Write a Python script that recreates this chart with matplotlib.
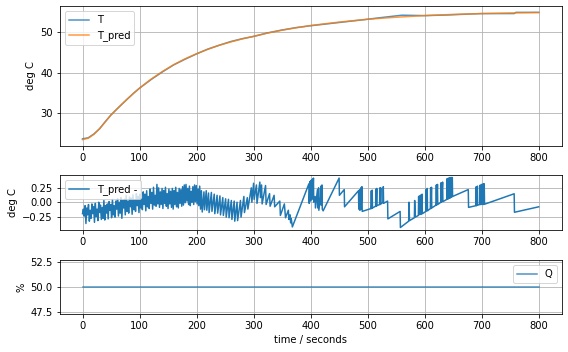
import numpy as np
import matplotlib
matplotlib.use("Agg")
import matplotlib.pyplot as plt

# ---------------- data ----------------
pred_time = [0, 10, 20, 30, 40, 50, 60, 70, 80, 90, 100, 120, 140, 160, 180, 200,
             220, 240, 260, 280, 300, 325, 350, 375, 400, 450, 500, 550, 600,
             650, 700, 750, 800]
T_pred = [23.5, 23.85, 24.8, 26.2, 27.9, 29.6, 31.0, 32.4, 33.7, 35.0, 36.2, 38.4,
          40.3, 42.0, 43.45, 44.7, 45.8, 46.8, 47.6, 48.35, 49.0, 49.8, 50.5,
          51.1, 51.65, 52.5, 53.2, 53.7, 54.1, 54.4, 54.6, 54.75, 54.85]

meas_time = [0, 10, 20, 30, 40, 50, 60, 70, 80, 90, 100, 120, 140, 160, 180, 200,
             220, 240, 260, 280, 300, 325, 350, 375, 400, 450, 500, 520, 560,
             600, 640, 680, 700, 757, 760, 800]
T_meas = [23.7, 23.95, 24.9, 26.2, 27.95, 29.6, 31.0, 32.35, 33.7, 35.0, 36.2, 38.3,
          40.2, 41.95, 43.35, 44.65, 45.85, 46.8, 47.7, 48.4, 48.95, 49.85, 50.55,
          51.15, 51.6, 52.4, 53.2, 53.55, 54.2, 54.1, 54.25, 54.5, 54.6, 54.6,
          54.9, 54.9]

# residual T_pred - T, dense part sampled every 1.5 s from t = 0
resid_dense_dt = 1.5
resid_dense = [
    -0.20, -0.12, -0.24, -0.06, -0.37, -0.10, -0.22, -0.04, -0.33, -0.14,
    -0.28, -0.03, -0.20, -0.08, -0.35, -0.02, -0.25, -0.12, -0.32, 0.00,
    -0.18, -0.05, -0.30, -0.09, -0.28, 0.03, -0.31, -0.06, -0.19, -0.03,
    -0.29, 0.01, -0.14, -0.04, -0.27, 0.05, -0.22, -0.06, -0.26, 0.02,
    -0.12, 0.06, -0.24, 0.00, -0.19, 0.08, -0.28, 0.03, -0.10, 0.05,
    -0.22, 0.12, -0.16, 0.02, -0.19, 0.09, -0.08, 0.07, -0.21, 0.13,
    -0.13, 0.04, -0.16, 0.15, -0.06, 0.10, -0.18, 0.14, -0.10, 0.06,
    -0.13, 0.18, -0.04, 0.14, -0.15, 0.20, -0.08, 0.10, -0.11, 0.23,
    -0.02, 0.17, -0.12, 0.26, -0.05, 0.12, -0.07, 0.31, -0.03, 0.25,
    -0.09, 0.18, -0.04, 0.24, -0.11, 0.20, -0.02, 0.26, -0.07, 0.15,
    -0.11, 0.23, -0.03, 0.19, -0.09, 0.24, -0.12, 0.20, -0.04, 0.26,
    -0.08, 0.17, -0.10, 0.24, -0.02, 0.22, -0.07, 0.27, -0.05, 0.30,
    -0.01, 0.31, 0.02, 0.24, -0.04, 0.28, -0.06, 0.19, 0.00, 0.27,
    -0.04, 0.30, 0.01, 0.29, -0.03, 0.23, -0.06, 0.28, -0.12, 0.20,
]
# residual, sparse part (time, value)
resid_late_t = [
    210, 213, 214, 217, 218, 221, 222, 226, 227, 231, 232, 236, 237, 241, 242,
    246, 247, 251, 252, 256, 257, 261, 262, 266, 267, 271, 272, 277, 278, 283,
    284, 289, 290, 296, 297, 300, 301, 305, 306, 311, 312, 314, 315, 321, 322,
    328, 329, 336, 337, 346, 347, 354, 356, 361, 362, 364, 365, 366, 368, 397,
    397.5, 399, 399.5, 401, 401.5, 403, 403.5, 405, 405.5, 408, 408.5, 412,
    412.5, 414, 414.5, 417, 418, 418.5, 420, 420.5, 422, 450, 450.5, 459, 459.5,
    484, 484.5, 486, 486.5, 488, 488.5, 490, 490.5, 506, 506.5, 507, 508, 508.5,
    514, 514.5, 515, 516, 516.5, 521, 521.5, 522, 523, 523.5, 527, 527.5, 528,
    535, 535.5, 557, 557.5, 572, 572.5, 573.5, 582, 582.5, 583.5, 589, 589.5,
    590, 591, 591.5, 593.5, 594, 594.5, 595.5, 596, 602, 602.5, 603, 604.5, 605,
    610, 610.5, 611, 612, 612.5, 620, 620.5, 621, 622.5, 623, 628.5, 629, 629.5,
    631.5, 632, 639, 639.5, 640, 641.5, 642, 643.5, 644, 645, 645.5, 647, 647.5,
    648.5, 649, 676.5, 677, 690, 690.5, 691, 692.5, 693, 697, 697.5, 698, 700,
    700.5, 702.5, 703, 704.5, 705, 757, 757.5, 800]
resid_late_v = [
    -0.17, 0.18, -0.13, 0.20, -0.14, 0.16, -0.18, 0.17, -0.16, 0.14, -0.20,
    0.12, -0.19, 0.11, -0.22, 0.08, -0.23, 0.06, -0.26, 0.05, -0.27, 0.03,
    -0.30, 0.02, -0.33, 0.00, -0.32, 0.03, -0.26, 0.10, -0.18, 0.08, -0.12,
    0.25, 0.00, 0.33, 0.05, 0.30, -0.02, 0.35, 0.08, 0.30, -0.03, 0.29, -0.04,
    0.15, -0.07, 0.12, -0.08, 0.02, -0.23, -0.03, -0.27, -0.14, -0.30, -0.22,
    -0.36, -0.28, -0.43, 0.32,
    -0.02, 0.36, 0.02, 0.38, 0.04, 0.40, 0.06, 0.42, 0.00, 0.10, -0.10, 0.22,
    -0.10, 0.25, -0.14, 0.08, 0.28, -0.05, 0.30, -0.12, -0.15, 0.42, 0.12, 0.22,
    -0.08, 0.20, -0.12, 0.22, -0.14, 0.25, -0.12, 0.27, -0.16, -0.11, 0.20,
    -0.11, 0.21, -0.10, -0.07, 0.23, -0.07, 0.24, -0.06, -0.04, 0.25, -0.04,
    0.25, -0.03, 0.00, 0.27, -0.02, 0.02, -0.29, -0.16, -0.44, -0.33, 0.00,
    -0.32, -0.27, 0.03, -0.26, -0.23, 0.10, -0.22, 0.11, -0.21, -0.21, 0.13,
    -0.20, 0.14, -0.20, -0.16, 0.22, -0.15, 0.24, -0.15, -0.11, 0.25, -0.11,
    0.26, -0.10, -0.05, 0.30, -0.05, 0.31, -0.04, 0.00, 0.34, 0.00, 0.35, 0.01,
    0.05, 0.41, 0.05, 0.42, 0.06, 0.42, 0.07, 0.43, 0.08, 0.43, 0.09, 0.43,
    0.10, 0.22, -0.09, -0.06, 0.27, -0.06, 0.28, -0.05, -0.04, 0.30, -0.04,
    0.31, -0.04, 0.32, -0.04, 0.32, -0.035, 0.147, -0.175, -0.08]

Q_time = [0, 800]
Q = [50, 50]

x_ticks = [0, 100, 200, 300, 400, 500, 600, 700, 800]

# ---------------- plot ----------------
plt.rcParams['font.family'] = ['DejaVu Sans']
plt.rcParams['font.size'] = 10

W, H = 568, 352
fig = plt.figure(figsize=(W / 72, H / 72), dpi=72)

def axes_px(left, top, right, bottom):
    return fig.add_axes([left / W, 1 - bottom / H, (right - left) / W, (bottom - top) / H])

ax1 = axes_px(59.7, 6, 561.5, 146)
ax2 = axes_px(59.7, 175, 561.5, 230)
ax3 = axes_px(59.7, 260, 561.5, 314.3)

ax1.plot(meas_time, T_meas, color='#1f77b4', alpha=0.8, lw=1.5, label='T')
ax1.plot(pred_time, T_pred, color='#ff7f0e', alpha=0.8, lw=1.5, label='T_pred')
ax1.set_ylabel('deg C')
ax1.set_yticks([30, 40, 50])
ax1.legend(loc='upper left')

resid_t = list(np.arange(len(resid_dense)) * resid_dense_dt) + resid_late_t
resid_v = resid_dense + resid_late_v
ax2.plot(resid_t, resid_v, color='#1f77b4', lw=1.5, label='T_pred -')
ax2.set_ylabel('deg C')
ax2.set_yticks([-0.25, 0.0, 0.25])
ax2.set_yticklabels(['−0.25', '0.00', '0.25'])
ax2.legend(loc='upper left')

ax3.plot(Q_time, Q, color='#1f77b4', alpha=0.8, lw=1.5, label='Q')
ax3.set_ylabel('%')
ax3.set_ylim(47.25, 52.75)
ax3.set_yticks([47.5, 50.0, 52.5])
ax3.set_yticklabels(['47.5', '50.0', '52.5'])
ax3.set_xlabel('time / seconds')
ax3.legend(loc='upper right')

for ax in (ax1, ax2, ax3):
    ax.set_xlim(-40, 840)
    ax.set_xticks(x_ticks)
    ax.grid(True, color='#b0b0b0', lw=0.8)

fig.savefig('out.png', dpi=72)
